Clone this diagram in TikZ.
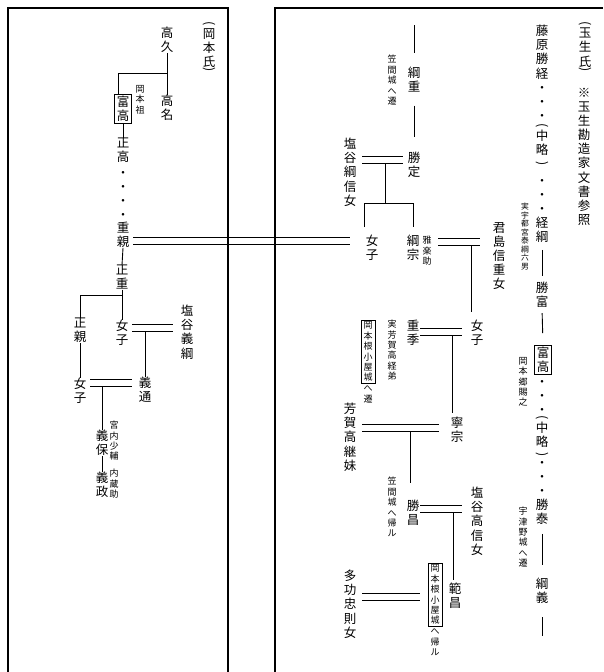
\documentclass[tikz,border=0pt]{standalone}
\usepackage{fontspec}
\newfontfamily\jp{Noto Sans CJK JP}
\usetikzlibrary{calc}
\tikzset{
  big/.style={font=\jp\fontsize{12.5}{14.1}\selectfont, align=center, inner sep=0pt, anchor=north},
  sm/.style={font=\jp\fontsize{9}{10.4}\selectfont, align=center, inner sep=0pt, anchor=north},
  tn/.style={font=\jp\fontsize{7.8}{8.5}\selectfont, align=center, inner sep=0pt, anchor=north},
  par/.style={font=\jp\fontsize{12.5}{14.1}\selectfont, inner sep=0pt, anchor=center, rotate=-90},
  framed/.style={draw, line width=0.8pt, inner xsep=2.5pt, inner ysep=1.5pt},
  ln/.style={line width=0.9pt},
  dbl/.style={double distance=6pt, line width=1pt},
  border/.style={line width=1.1pt}
}
\begin{document}
\begin{tikzpicture}[x=1pt,y=-1pt]
\useasboundingbox[fill=white] (0,0) rectangle (603,672);

% ---------- left: Okamoto ----------
\node[par] (okaP1) at (209,24) {(};
\node[big] (okamotoshi) at (209,28) {岡\\本\\氏};
\node[par] (okaP2) at (209,70) {)};
\node[big] (takahisa) at (167,27) {高\\久};
\node[big] (takana) at (167,95) {高\\名};
\node[big,framed] (tomitakaL) at (123,94) {富\\高};
\node[sm] (okamotoso) at (140,85) {岡\\本\\祖};
\node[big] (masataka) at (123,138) {正\\高};
\node[big] (dotsL) at (123,171) {・\\・\\・\\・};
\node[big] (shigechika) at (123,222) {重\\親};
\node[big] (masashige) at (122,265) {正\\重};
\node[big] (onnaL1) at (122,320) {女\\子};
\node[big] (masachika) at (80,318) {正\\親};
\node[big] (shioyayoshitsuna) at (187,305) {塩\\谷\\義\\綱};
\node[big] (yoshimichi) at (145,377) {義\\通};
\node[big] (onnaL2) at (80,378) {女\\子};
\node[big] (yoshiyasu) at (102,430) {義\\保};
\node[sm] (kunai) at (114,421) {宮\\内\\少\\輔};
\node[big] (yoshimasa) at (102,472) {義\\政};
\node[sm] (kura) at (114,469) {内\\蔵\\助};

% ---------- right: Tamanyu ----------
\node[par] (tamaP1) at (585,24) {(};
\node[big] (tamanyushi) at (585,28) {玉\\生\\氏};
\node[par] (tamaP2) at (585,70) {)};
\node[big] (note) at (584,88) {※\\玉\\生\\勘\\造\\家\\文\\書\\参\\照};

\node[big] (fujiwara) at (542,25) {藤\\原\\勝\\経\\・\\・\\・};
\node[par] (chuP1) at (542,126) {(};
\node[big] (churyaku1) at (542,130) {中\\略};
\node[par] (chuP2) at (542,164) {)};
\node[big] (keitsuna) at (542,179) {・\\・\\・\\経\\綱};
\node[tn] (jitsuutsu) at (525,203) {実\\宇\\都\\宮\\泰\\綱\\六\\男};
\node[big] (katsutomi) at (542,282) {勝\\富};
\node[big,framed] (tomitakaR) at (543,345) {富\\高};
\node[sm] (okamotogo) at (523,357) {岡\\本\\郷\\賜\\之};
\node[big] (dotsR) at (542,380) {・\\・\\・};
\node[par] (chuP3) at (542,418) {(};
\node[big] (churyaku2) at (542,422) {中\\略};
\node[par] (chuP4) at (542,455) {)};
\node[big] (katsuyasu) at (542,461) {・\\・\\・\\勝\\泰};
\node[sm] (utsuno) at (523,507) {宇\\津\\野\\城\\へ\\遷};
\node[big] (tsunayoshi) at (542,578) {綱\\義};
\coordinate (endR) at (542,636);
\node[big] (kimijima) at (499,222) {君\\島\\信\\重\\女};

\coordinate (tsTop) at (414,25);
\node[big] (tsunashige) at (414,67) {綱\\重};
\node[sm] (kasama1) at (392,55) {笠\\間\\城\\へ\\遷};
\node[big] (katsusada) at (414,152) {勝\\定};
\node[big] (shioyatsunanobu) at (350,138) {塩\\谷\\綱\\信\\女};
\node[big] (onnaR1) at (372,235) {女\\子};
\node[big] (tsunamune) at (413,235) {綱\\宗};
\node[sm] (gagaku) at (427,236) {雅\\楽\\助};
\node[big] (onnaR2) at (477,320) {女\\子};
\node[big] (shigesue) at (413,320) {重\\季};
\node[sm] (jitsuhaga) at (392,320) {実\\芳\\賀\\高\\経\\弟};
\node[sm,framed] (okaA) at (368,320) {岡\\本\\根\\小\\屋\\城};
\node[sm] (okaAt) at ([yshift=-2pt]okaA.south) {へ\\遷};
\node[big] (neimune) at (457,417) {寧\\宗};
\node[big] (hagatakatsugu) at (350,403) {芳\\賀\\高\\継\\妹};
\node[big] (katsumasa) at (413,500) {勝\\昌};
\node[sm] (kasama2) at (392,477) {笠\\間\\城\\へ\\帰\\ル};
\node[big] (shioyatakanobu) at (477,487) {塩\\谷\\高\\信\\女};
\node[big] (norimasa) at (455,583) {範\\昌};
\node[sm,framed] (okaB) at (435,563) {岡\\本\\根\\小\\屋\\城};
\node[sm] (okaBt) at ([yshift=-2pt]okaB.south) {へ\\帰\\ル};
\node[big] (takou) at (350,570) {多\\功\\忠\\則\\女};

% ---------- double lines (drawn before borders) ----------
\draw[dbl, shorten <=4pt, shorten >=16pt] (shigechika.east |- 0,241) -- (onnaR1.west |- 0,241);
\draw[dbl, shorten <=4pt, shorten >=8pt] (onnaL1.east |- 0,328) -- (shioyayoshitsuna.west |- 0,328);
\draw[dbl, shorten <=4pt, shorten >=7pt] (onnaL2.east |- 0,383) -- (yoshimichi.west |- 0,383);
\draw[dbl, shorten <=5pt, shorten >=6pt] (katsusada.west |- 0,160) -- (shioyatsunanobu.east |- 0,160);
\draw[dbl, shorten <=19pt, shorten >=13pt] (tsunamune.east |- 0,241.5) -- (kimijima.west |- 0,241.5);
\draw[dbl, shorten <=1pt, shorten >=9pt] (shigesue.east |- 0,332) -- (onnaR2.west |- 0,332);
\draw[dbl, shorten <=12pt, shorten >=6pt] (neimune.west |- 0,427.5) -- (hagatakatsugu.east |- 0,427.5);
\draw[dbl, shorten <=1pt, shorten >=9pt] (katsumasa.east |- 0,509) -- (shioyatakanobu.west |- 0,509);
\draw[dbl, shorten <=6pt, shorten >=29pt] (takou.east |- 0,596.5) -- (norimasa.west |- 0,596.5);

% ---------- borders ----------
\draw[border] (8,672) -- (8,8) -- (228,8) -- (228,672);
\draw[border] (275,672) -- (275,8) -- (603,8);

% ---------- left connectors ----------
\draw[ln] (takahisa.south) -- (takana.north);
\draw[ln] (takahisa.south |- 0,73) -| ([xshift=-5pt]tomitakaL.north);
\draw[ln] (tomitakaL.south) -- (masataka.north);
\draw[ln] (shigechika.south) -- (masashige.north);
\draw[ln] (masashige.south) -- (onnaL1.north);
\draw[ln] (masashige.south |- 0,295) -| (masachika.north);
\draw[ln] (masachika.south) -- (onnaL2.north);
\draw[ln] (yoshimichi.north |- 0,331.5) -- (yoshimichi.north);
\draw[ln] (yoshiyasu.north |- 0,386.5) -- (yoshiyasu.north);
\draw[ln] (yoshiyasu.south) -- (yoshimasa.north);

% ---------- right connectors ----------
\draw[ln, shorten <=7pt, shorten >=6pt] (keitsuna.south) -- (katsutomi.north);
\draw[ln, shorten <=5pt, shorten >=12pt] (katsutomi.south) -- (tomitakaR.north);
\draw[ln, shorten <=9pt, shorten >=13pt] (katsuyasu.south) -- (tsunayoshi.north);
\draw[ln, shorten <=13pt] (tsunayoshi.south) -- (endR);

\draw[ln, shorten >=14pt] (tsTop) -- (tsunashige.north);
\draw[ln, shorten <=13pt, shorten >=15pt] (tsunashige.south) -- (katsusada.north);
\coordinate (brS) at (385,203);
\draw[ln] (brS |- 0,163.5) -- (brS);
\draw[ln] ([xshift=-8pt,yshift=8pt]onnaR1.north) |- (tsunamune.north |- brS) -- ([yshift=8pt]tsunamune.north);
\coordinate (v5) at (471,245);
\draw[ln, shorten >=8pt] (v5) -- (v5 |- onnaR2.north);
\coordinate (v6) at (452,335.5);
\draw[ln, shorten >=4pt] (v6) -- (v6 |- neimune.north);
\coordinate (v7) at (410,431);
\draw[ln, shorten >=17pt] (v7) -- (v7 |- katsumasa.north);
\coordinate (v8) at (453,512.5);
\draw[ln, shorten >=3pt] (v8) -- (v8 |- norimasa.north);
\end{tikzpicture}
\end{document}
